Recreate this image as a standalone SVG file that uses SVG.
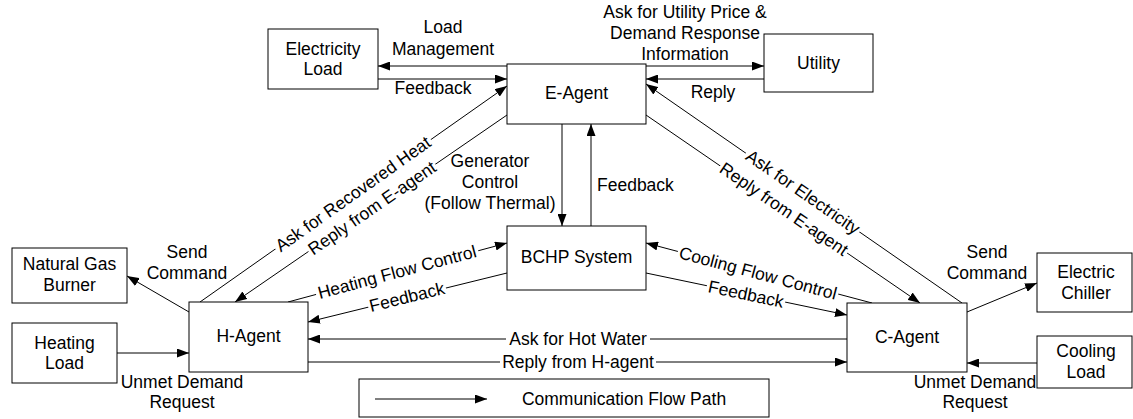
<svg xmlns="http://www.w3.org/2000/svg" width="1133" height="419" viewBox="0 0 1133 419">
<defs>
<style>
text{font-family:"Liberation Sans",Arial,sans-serif;font-size:17.5px;fill:#000}
.c{text-anchor:middle}
.n{fill:#fff;stroke:#000;stroke-width:1}
.l{stroke:#000;stroke-width:1;fill:none}
.a{marker-end:url(#ah)}
.bg{fill:#fff}
</style>
<marker id="ah" markerUnits="userSpaceOnUse" markerWidth="12" markerHeight="9" refX="12" refY="4.5" orient="auto">
<path d="M0,0 L12,4.5 L0,9 z" fill="#000"/>
</marker>
</defs>
<rect width="1133" height="419" fill="#fff"/>

<g id="connectors">
<line class="l a" x1="507" y1="66" x2="378" y2="66"/>
<line class="l a" x1="378" y1="79" x2="507" y2="79"/>
<line class="l a" x1="646" y1="66" x2="764" y2="66"/>
<line class="l a" x1="764" y1="79" x2="646" y2="79"/>
<line class="l a" x1="562" y1="124" x2="562" y2="226"/>
<line class="l a" x1="591" y1="226" x2="591" y2="124"/>
<line class="l a" x1="200" y1="302" x2="507" y2="86"/>
<line class="l a" x1="507" y1="115" x2="235" y2="302"/>
<line class="l a" x1="962" y1="303" x2="646" y2="84"/>
<line class="l a" x1="646" y1="115" x2="920" y2="303"/>
<line class="l a" x1="288" y1="302" x2="507" y2="243"/>
<line class="l a" x1="507" y1="273" x2="308" y2="322"/>
<line class="l a" x1="872" y1="303" x2="646" y2="243"/>
<line class="l a" x1="646" y1="273" x2="847" y2="315"/>
<line class="l a" x1="847" y1="339" x2="308" y2="339"/>
<line class="l a" x1="308" y1="362" x2="847" y2="362"/>
<line class="l a" x1="189" y1="312" x2="127" y2="276"/>
<line class="l a" x1="117" y1="353" x2="189" y2="353"/>
<line class="l a" x1="967" y1="312" x2="1037" y2="283"/>
<line class="l a" x1="1037" y1="363" x2="967" y2="363"/>

<g transform="translate(353,194) rotate(-35.3)"><rect class="bg" x="-95" y="-7" width="190" height="14"/><text class="c" y="6">Ask for Recovered Heat</text></g>
<g transform="translate(372,208) rotate(-34.5)"><rect class="bg" x="-77" y="-7" width="154" height="14"/><text class="c" y="6">Reply from E-agent</text></g>
<g transform="translate(803,192) rotate(34.8)"><rect class="bg" x="-69" y="-7" width="138" height="14"/><text class="c" y="6">Ask for Electricity</text></g>
<g transform="translate(784,209) rotate(34.3)"><rect class="bg" x="-77" y="-7" width="154" height="14"/><text class="c" y="6">Reply from E-agent</text></g>
<g transform="translate(397,272) rotate(-15)"><rect class="bg" x="-84" y="-7" width="168" height="14"/><text class="c" y="6">Heating Flow Control</text></g>
<g transform="translate(407,297) rotate(-13.8)"><rect class="bg" x="-40" y="-7" width="80" height="14"/><text class="c" y="6">Feedback</text></g>
<g transform="translate(758,273) rotate(14.9)"><rect class="bg" x="-83" y="-7" width="166" height="14"/><text class="c" y="6">Cooling Flow Control</text></g>
<g transform="translate(746,294) rotate(11.8)"><rect class="bg" x="-40" y="-7" width="80" height="14"/><text class="c" y="6">Feedback</text></g>
<rect class="bg" x="506" y="332" width="144" height="14"/><text class="c" x="578" y="345">Ask for Hot Water</text>
<rect class="bg" x="500" y="355" width="156" height="14"/><text class="c" x="578" y="368">Reply from H-agent</text>

<text class="c" x="443" y="33">Load</text>
<text class="c" x="443" y="55">Management</text>
<text class="c" x="433" y="94">Feedback</text>
<text class="c" x="685" y="18">Ask for Utility Price &amp;</text>
<text class="c" x="685" y="39">Demand Response</text>
<text class="c" x="685" y="60">Information</text>
<text class="c" x="713" y="98">Reply</text>
<text class="c" x="490" y="167">Generator</text>
<text class="c" x="490" y="188">Control</text>
<text class="c" x="490" y="209">(Follow Thermal)</text>
<text x="597" y="191">Feedback</text>
<text class="c" x="187" y="258">Send</text>
<text class="c" x="187" y="279">Command</text>
<text class="c" x="182" y="388">Unmet Demand</text>
<text class="c" x="182" y="408">Request</text>
<text class="c" x="987" y="258">Send</text>
<text class="c" x="987" y="279">Command</text>
<text class="c" x="975" y="388">Unmet Demand</text>
<text class="c" x="975" y="408">Request</text>
</g>

<g id="electricity-load"><rect class="n" x="268" y="29" width="110" height="60"/><text class="c" x="323" y="55">Electricity</text><text class="c" x="323" y="75">Load</text></g>
<g id="e-agent"><rect class="n" x="507" y="64" width="139" height="60"/><text class="c" x="576.5" y="99">E-Agent</text></g>
<g id="utility"><rect class="n" x="764" y="34" width="109" height="58"/><text class="c" x="818.5" y="69">Utility</text></g>
<g id="bchp-system"><rect class="n" x="507" y="226" width="139" height="64"/><text class="c" x="576.5" y="263">BCHP System</text></g>
<g id="natural-gas-burner"><rect class="n" x="12" y="248" width="115" height="55"/><text class="c" x="69.5" y="270">Natural Gas</text><text class="c" x="69.5" y="291">Burner</text></g>
<g id="heating-load"><rect class="n" x="12" y="323" width="105" height="60"/><text class="c" x="64.5" y="349">Heating</text><text class="c" x="64.5" y="369">Load</text></g>
<g id="h-agent"><rect class="n" x="189" y="302" width="119" height="70"/><text class="c" x="248.5" y="342">H-Agent</text></g>
<g id="c-agent"><rect class="n" x="847" y="303" width="120" height="69"/><text class="c" x="907" y="343">C-Agent</text></g>
<g id="electric-chiller"><rect class="n" x="1037" y="253" width="95" height="59"/><text class="c" x="1086" y="278">Electric</text><text class="c" x="1086" y="299">Chiller</text></g>
<g id="cooling-load"><rect class="n" x="1037" y="336" width="95" height="52"/><text class="c" x="1086" y="357">Cooling</text><text class="c" x="1086" y="378">Load</text></g>
<g id="legend"><rect class="n" x="359" y="379" width="410" height="38"/><line class="l a" x1="375" y1="399" x2="487" y2="399"/><text class="c" x="624" y="405">Communication Flow Path</text></g>
</svg>
